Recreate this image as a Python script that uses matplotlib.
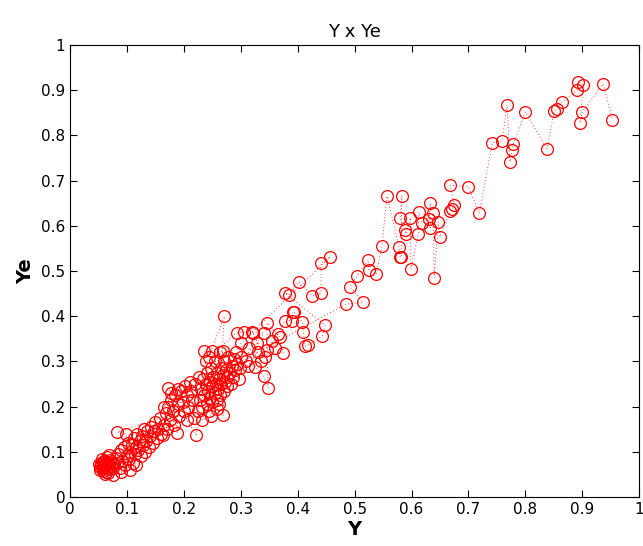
import matplotlib
matplotlib.use('Agg')
import matplotlib.pyplot as plt
import numpy as np

low_y = [0.052, 0.055, 0.058, 0.050, 0.054, 0.060, 0.057, 0.062, 0.065, 0.059,
         0.053, 0.056, 0.061, 0.066, 0.063, 0.058, 0.068, 0.070, 0.064, 0.072,
         0.067, 0.074, 0.071, 0.076, 0.069, 0.078, 0.062, 0.057, 0.075, 0.080]
low_ye = [0.066, 0.070, 0.062, 0.072, 0.076, 0.068, 0.058, 0.074, 0.064, 0.080,
          0.060, 0.084, 0.070, 0.078, 0.056, 0.066, 0.072, 0.062, 0.088, 0.068,
          0.054, 0.076, 0.082, 0.064, 0.092, 0.072, 0.050, 0.078, 0.048, 0.086]

lowmid_y = [0.082, 0.085, 0.088, 0.090, 0.092, 0.095, 0.097, 0.100, 0.102, 0.104,
            0.106, 0.108, 0.110, 0.112, 0.114, 0.116, 0.118, 0.120, 0.122, 0.124,
            0.126, 0.128, 0.130, 0.132, 0.134, 0.136, 0.138, 0.140, 0.142, 0.145,
            0.148, 0.150, 0.152, 0.155, 0.158, 0.083, 0.098, 0.115, 0.105, 0.090]
lowmid_ye = [0.075, 0.095, 0.065, 0.105, 0.080, 0.110, 0.070, 0.090, 0.120, 0.085,
             0.100, 0.115, 0.075, 0.130, 0.095, 0.110, 0.140, 0.105, 0.125, 0.090,
             0.135, 0.115, 0.150, 0.100, 0.125, 0.145, 0.110, 0.135, 0.155, 0.120,
             0.145, 0.165, 0.130, 0.150, 0.175, 0.144, 0.140, 0.070, 0.060, 0.055]

mid_y = [0.160, 0.163, 0.165, 0.168, 0.170, 0.172, 0.175, 0.178, 0.180, 0.182,
         0.185, 0.188, 0.190, 0.192, 0.195, 0.198, 0.200, 0.202, 0.205, 0.208,
         0.210, 0.212, 0.215, 0.218, 0.220, 0.172, 0.178, 0.165, 0.190, 0.205]
mid_ye = [0.140, 0.137, 0.160, 0.185, 0.150, 0.200, 0.170, 0.215, 0.190, 0.160,
          0.225, 0.142, 0.205, 0.180, 0.235, 0.210, 0.190, 0.245, 0.225, 0.200,
          0.255, 0.235, 0.215, 0.175, 0.250, 0.241, 0.230, 0.200, 0.240, 0.170]

blob_y = [0.222, 0.225, 0.228, 0.230, 0.232, 0.234, 0.236, 0.238, 0.240, 0.240,
          0.242, 0.244, 0.245, 0.246, 0.248, 0.250, 0.250, 0.252, 0.254, 0.255,
          0.256, 0.258, 0.259, 0.260, 0.262, 0.263, 0.264, 0.265, 0.266, 0.268,
          0.269, 0.270, 0.271, 0.272, 0.274, 0.275, 0.276, 0.278, 0.280, 0.282,
          0.284, 0.286, 0.288, 0.290, 0.292, 0.294, 0.296, 0.298, 0.300, 0.235,
          0.250, 0.269, 0.232, 0.248, 0.238, 0.226, 0.258, 0.262, 0.271, 0.244]
blob_ye = [0.137, 0.190, 0.215, 0.240, 0.200, 0.260, 0.225, 0.250, 0.205, 0.275,
           0.235, 0.190, 0.255, 0.220, 0.285, 0.245, 0.210, 0.265, 0.230, 0.300,
           0.250, 0.215, 0.275, 0.240, 0.260, 0.320, 0.225, 0.285, 0.250, 0.270,
           0.181, 0.235, 0.300, 0.255, 0.280, 0.245, 0.265, 0.310, 0.275, 0.250,
           0.290, 0.265, 0.305, 0.280, 0.320, 0.295, 0.260, 0.285, 0.310, 0.323,
           0.323, 0.323, 0.170, 0.180, 0.300, 0.265, 0.195, 0.205, 0.400, 0.310]

upmid_y = [0.293, 0.305, 0.322, 0.329, 0.325, 0.340, 0.348, 0.346, 0.346, 0.369,
           0.374, 0.343, 0.320, 0.340, 0.310, 0.315, 0.335, 0.355, 0.360, 0.365,
           0.378, 0.390, 0.392, 0.394, 0.408, 0.410, 0.413, 0.418, 0.443, 0.448,
           0.378, 0.385, 0.402, 0.425, 0.441, 0.441, 0.457, 0.300, 0.312, 0.330]
upmid_ye = [0.363, 0.365, 0.363, 0.340, 0.288, 0.268, 0.241, 0.325, 0.385, 0.354,
            0.319, 0.310, 0.365, 0.363, 0.300, 0.330, 0.300, 0.345, 0.330, 0.360,
            0.390, 0.390, 0.410, 0.409, 0.387, 0.365, 0.334, 0.336, 0.356, 0.380,
            0.451, 0.447, 0.476, 0.445, 0.451, 0.518, 0.531, 0.340, 0.290, 0.320]

upper_y = [0.485, 0.515, 0.492, 0.504, 0.524, 0.525, 0.538, 0.548, 0.557, 0.578,
           0.580, 0.582, 0.583, 0.580, 0.589, 0.590, 0.598, 0.599, 0.612, 0.613,
           0.619, 0.631, 0.633, 0.633, 0.638, 0.640, 0.647, 0.650, 0.668, 0.672,
           0.675, 0.668, 0.700, 0.719]
upper_ye = [0.427, 0.431, 0.465, 0.489, 0.524, 0.502, 0.493, 0.555, 0.666, 0.553,
            0.531, 0.531, 0.666, 0.617, 0.590, 0.582, 0.617, 0.504, 0.582, 0.630,
            0.606, 0.615, 0.650, 0.595, 0.628, 0.485, 0.608, 0.575, 0.633, 0.638,
            0.646, 0.690, 0.686, 0.628]

top_y = [0.742, 0.759, 0.768, 0.773, 0.777, 0.779, 0.800, 0.838, 0.851, 0.855,
         0.865, 0.891, 0.893, 0.902, 0.896, 0.900, 0.937, 0.953]
top_ye = [0.783, 0.788, 0.867, 0.741, 0.768, 0.781, 0.852, 0.770, 0.854, 0.858,
          0.874, 0.900, 0.918, 0.912, 0.827, 0.852, 0.914, 0.834]

Y = np.array(low_y + lowmid_y + mid_y + blob_y + upmid_y + upper_y + top_y)
Ye = np.array(low_ye + lowmid_ye + mid_ye + blob_ye + upmid_ye + upper_ye + top_ye)

fig = plt.figure(figsize=(6.43, 5.46), dpi=100)
ax = fig.add_axes([0.109, 0.0897, 0.885, 0.828])

ax.plot(Y, Ye, color='red', linewidth=0.6, dashes=(1, 3))
ax.plot(Y, Ye, 'o', markerfacecolor='none', markeredgecolor='red',
        markersize=8.5, markeredgewidth=0.9)

ax.set_xlim(0, 1)
ax.set_ylim(0, 1)
ticks = np.arange(0, 1.01, 0.1)
ax.set_xticks(ticks)
ax.set_yticks(ticks)
ax.set_xticklabels(['0'] + ['%.1f' % t for t in ticks[1:-1]] + ['1'])
ax.set_yticklabels(['0'] + ['%.1f' % t for t in ticks[1:-1]] + ['1'])
ax.tick_params(direction='in', top=True, right=True, length=5, labelsize=11)

ax.set_title('Y x Ye', fontsize=13)
ax.set_xlabel('Y', fontsize=14, fontweight='bold', labelpad=2)
ax.set_ylabel('Ye', fontsize=14, fontweight='bold')

fig.savefig('out.png', dpi=100)
